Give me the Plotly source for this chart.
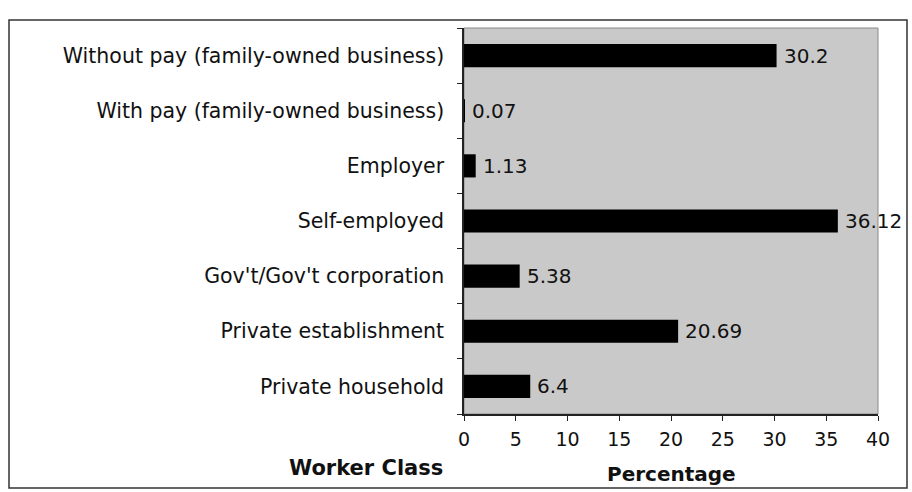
import plotly.graph_objects as go

# Worker class categories, listed top to bottom
categories = [
    "Without pay (family-owned business)",
    "With pay (family-owned business)",
    "Employer",
    "Self-employed",
    "Gov't/Gov't corporation",
    "Private establishment",
    "Private household",
]
percentages = [30.2, 0.07, 1.13, 36.12, 5.38, 20.69, 6.4]
value_labels = ["30.2", "0.07", "1.13", "36.12", "5.38", "20.69", "6.4"]
x_ticks = [0, 5, 10, 15, 20, 25, 30, 35, 40]

W, H = 912, 492
L, R, T, B = 464, 34, 28, 78
pw, ph = W - L - R, H - T - B

FONT = "DejaVu Sans"
INK = "#111111"

fig = go.Figure(
    go.Bar(
        x=percentages,
        y=categories,
        orientation="h",
        marker=dict(color="#000000", line=dict(width=0)),
        width=0.42,
        hoverinfo="x+y",
    )
)

def px_to_paper_x(px):
    return (px - L) / pw

def px_to_paper_y(py):
    return 1 - (py - T) / ph

# value labels just past the end of each bar
value_annotations = [
    dict(x=v, y=c, text=t, xref="x", yref="y", xanchor="left", yanchor="middle",
         xshift=5, showarrow=False, font=dict(family=FONT, size=20, color=INK))
    for v, c, t in zip(percentages, categories, value_labels)
]

fig.update_layout(
    width=W,
    height=H,
    margin=dict(l=L, r=R, t=T, b=B, pad=0),
    paper_bgcolor="#ffffff",
    plot_bgcolor="#c9c9c9",
    showlegend=False,
    font=dict(family=FONT, size=18, color=INK),
    xaxis=dict(
        range=[0, 40],
        tickvals=x_ticks,
        ticktext=[str(v) for v in x_ticks],
        showgrid=False,
        zeroline=False,
        showline=True,
        linecolor="#222222",
        linewidth=1.5,
        ticks="outside",
        ticklen=5,
        tickcolor="#222222",
        ticklabelstandoff=2,
        tickfont=dict(family=FONT, size=19, color=INK),
        fixedrange=True,
    ),
    yaxis=dict(
        categoryorder="array",
        categoryarray=categories[::-1],
        showgrid=False,
        zeroline=False,
        showline=True,
        linecolor="#222222",
        linewidth=1.5,
        ticks="outside",
        tickson="boundaries",
        ticklen=5,
        tickcolor="#222222",
        ticklabelstandoff=14,
        tickfont=dict(family=FONT, size=20.5, color=INK),
        fixedrange=True,
    ),
    shapes=[
        # thin frame around the plotting area
        dict(type="rect", xref="paper", yref="paper", x0=0, x1=1, y0=0, y1=1,
             line=dict(color="#8a8a8a", width=1), layer="below"),
        # outer border of the figure
        dict(type="rect", xref="paper", yref="paper",
             x0=px_to_paper_x(9), x1=px_to_paper_x(907),
             y0=px_to_paper_y(488), y1=px_to_paper_y(20),
             line=dict(color="#333333", width=1.5)),
    ],
    annotations=value_annotations + [
        dict(text="<b>Worker Class</b>", xref="paper", yref="paper",
             x=px_to_paper_x(445), y=px_to_paper_y(468),
             xanchor="right", yanchor="middle", showarrow=False,
             font=dict(family=FONT, size=21, color=INK)),
        dict(text="<b>Percentage</b>", xref="paper", yref="paper",
             x=0.5, y=px_to_paper_y(474),
             xanchor="center", yanchor="middle", showarrow=False,
             font=dict(family=FONT, size=20, color=INK)),
    ],
)

fig.write_html("out.html")
